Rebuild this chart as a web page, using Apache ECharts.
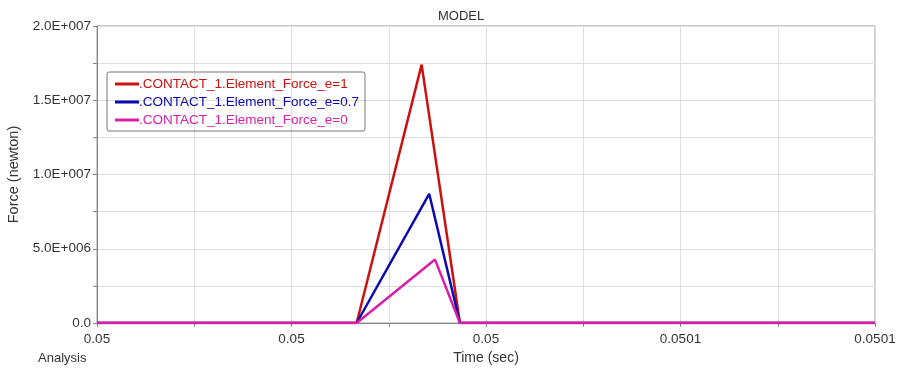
<!DOCTYPE html>
<html>
<head>
<meta charset="utf-8">
<script src="https://cdn.jsdelivr.net/npm/echarts@6/dist/echarts.min.js"></script>
<style>
  html, body { margin: 0; padding: 0; background: #fff; }
  #chart { width: 899px; height: 372px; }
</style>
</head>
<body>
<div id="chart"></div>
<script>
// x is in tick units (0..4), tick labels come from xTickLabels
const xTickLabels = ['0.05', '0.05', '0.05', '0.0501', '0.0501']
const yTickLabels = ['0.0', '5.0E+006', '1.0E+007', '1.5E+007', '2.0E+007']

const seriesNames = [
  '.CONTACT_1.Element_Force_e=1',
  '.CONTACT_1.Element_Force_e=0.7',
  '.CONTACT_1.Element_Force_e=0'
]
const seriesColors = ['#cc1010', '#0a0ab0', '#d81fa8']

const forceE1 = [[0, 0], [1.335, 0], [1.669, 1.74e7], [1.866, 0], [4, 0]]
const forceE07 = [[0, 0], [1.335, 0], [1.708, 8.7e6], [1.866, 0], [4, 0]]
const forceE0 = [[0, 0], [1.335, 0], [1.738, 4.27e6], [1.866, 0], [4, 0]]
const seriesData = [forceE1, forceE07, forceE0]

const chart = echarts.init(document.getElementById('chart'))
const font = 'Liberation Sans, Arial, sans-serif'

chart.setOption({
  animation: false,
  textStyle: { fontFamily: font },
  title: {
    text: 'MODEL',
    left: 433,
    top: 5,
    textStyle: { fontSize: 13, fontWeight: 'normal', color: '#333' }
  },
  legend: {
    orient: 'vertical',
    left: 107,
    top: 72,
    padding: [5, 6, 4, 8],
    itemGap: 4,
    itemWidth: 24,
    itemHeight: 3,
    icon: 'rect',
    borderColor: '#777',
    borderWidth: 1,
    borderRadius: 2,
    textStyle: { fontSize: 13.5, padding: [0, 0, 0, -5] },
    data: seriesNames.map((n, i) => ({ name: n, textStyle: { color: seriesColors[i] } }))
  },
  grid: {
    left: 97, right: 24, top: 26, bottom: 49,
    containLabel: false,
    outerBoundsMode: 'none',
    show: true, borderColor: '#999', borderWidth: 1
  },
  graphic: [{
    type: 'text',
    left: 38,
    top: 352,
    style: { text: 'Analysis', fill: '#333', font: '13px ' + font }
  }],
  xAxis: {
    type: 'value',
    min: 0,
    max: 4,
    interval: 0.5,
    name: 'Time (sec)',
    nameLocation: 'middle',
    nameGap: 27,
    nameTextStyle: { color: '#333', fontSize: 14 },
    axisLine: { lineStyle: { color: '#888' } },
    axisTick: { show: true, length: 4, lineStyle: { color: '#888' } },
    axisLabel: {
      color: '#333',
      fontSize: 13.5,
      margin: 9,
      formatter: v => (Number.isInteger(v) ? xTickLabels[v] : '')
    },
    splitLine: { show: true, lineStyle: { color: '#ddd' } }
  },
  yAxis: {
    type: 'value',
    min: 0,
    max: 2e7,
    interval: 2.5e6,
    name: 'Force (newton)',
    nameLocation: 'middle',
    nameRotate: 90,
    nameGap: 75,
    nameTextStyle: { color: '#333', fontSize: 14.5 },
    axisLine: { show: true, lineStyle: { color: '#888' } },
    axisTick: { show: true, length: 4, lineStyle: { color: '#888' } },
    axisLabel: {
      color: '#333',
      fontSize: 13.5,
      margin: 6,
      formatter: v => (v % 5e6 === 0 ? yTickLabels[v / 5e6] : '')
    },
    splitLine: { show: true, lineStyle: { color: '#ddd' } }
  },
  series: seriesNames.map((n, i) => ({
    name: n,
    type: 'line',
    data: seriesData[i],
    symbol: 'none',
    lineStyle: { color: seriesColors[i], width: 2.5 },
    itemStyle: { color: seriesColors[i] },
    z: 2 + i
  }))
})
</script>
</body>
</html>
